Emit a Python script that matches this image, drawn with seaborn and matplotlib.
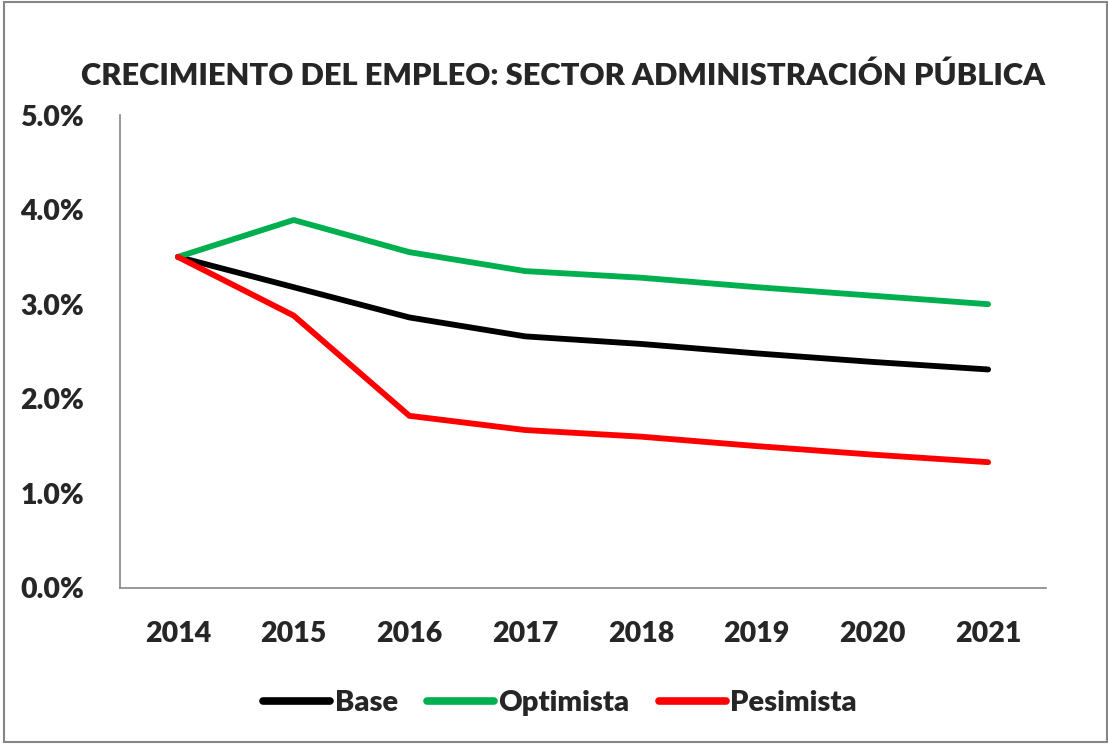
import matplotlib
matplotlib.use("Agg")
import matplotlib.pyplot as plt
import seaborn as sns
import pandas as pd
from matplotlib.patches import Rectangle
from matplotlib.ticker import FuncFormatter

years = ["2014", "2015", "2016", "2017", "2018", "2019", "2020", "2021"]
base = [3.50, 3.18, 2.86, 2.66, 2.58, 2.48, 2.39, 2.31]
optimista = [3.50, 3.89, 3.55, 3.35, 3.28, 3.18, 3.09, 3.00]
pesimista = [3.50, 2.88, 1.82, 1.67, 1.60, 1.50, 1.41, 1.33]

df = pd.DataFrame({"Año": years * 3,
                   "valor": base + optimista + pesimista,
                   "escenario": ["Base"] * 8 + ["Optimista"] * 8 + ["Pesimista"] * 8})

sns.set_style("white")
plt.rcParams['font.family'] = ['Lato', 'DejaVu Sans']
plt.rcParams['font.weight'] = 'heavy'
PESO = "heavy"

fig = plt.figure(figsize=(11.08, 7.44), dpi=100)
ax = fig.add_axes([120 / 1108, (744 - 588) / 744, (1046 - 120) / 1108, (588 - 115) / 744])

colores = {"Base": "#000000", "Optimista": "#00B050", "Pesimista": "#FF0000"}
sns.lineplot(data=df, x="Año", y="valor", hue="escenario", palette=colores,
             linewidth=4.2, sort=False, ax=ax)

ax.set_xlim(-0.5, 7.5)
ax.set_ylim(0, 5)
ax.set_yticks([0, 1, 2, 3, 4, 5])
ax.yaxis.set_major_formatter(FuncFormatter(lambda v, p: f"{v:.1f}%"))
ax.set_xticks(range(8))
ax.set_xticklabels(years)
ax.set_xticks([i - 0.5 for i in range(9)], minor=True)
ax.tick_params(axis="x", which="major", length=0, pad=24, labelsize=20.5)
ax.tick_params(axis="x", which="minor", length=7, width=1.2, color="#868686", direction="out")
ax.tick_params(axis="y", length=7, width=1.2, color="#868686", direction="out", pad=19, labelsize=20.5)
for lab in ax.get_xticklabels() + ax.get_yticklabels():
    lab.set_fontweight(PESO)

for s in ["top", "right"]:
    ax.spines[s].set_visible(False)
for s in ["left", "bottom"]:
    ax.spines[s].set_color("#868686")
    ax.spines[s].set_linewidth(1.2)

ax.set_xlabel("")
ax.set_ylabel("")
fig.text(0.508, 0.898, "CRECIMIENTO DEL EMPLEO: SECTOR ADMINISTRACIÓN PÚBLICA",
         ha="center", va="center", fontsize=22.2, fontweight=PESO)

leg = ax.legend(loc="center", bbox_to_anchor=(560 / 1108, 1 - 703 / 744),
                bbox_transform=fig.transFigure, ncol=3, frameon=False,
                prop={"size": 21, "weight": PESO}, handlelength=2.3,
                handletextpad=0.15, columnspacing=1.0)
for line in leg.get_lines():
    line.set_linewidth(5.5)

fig.patches.append(Rectangle((0.004, 0.003), 0.995, 0.994, transform=fig.transFigure,
                             fill=False, edgecolor="#868686", linewidth=1.5))

fig.savefig("out.png", dpi=100)
